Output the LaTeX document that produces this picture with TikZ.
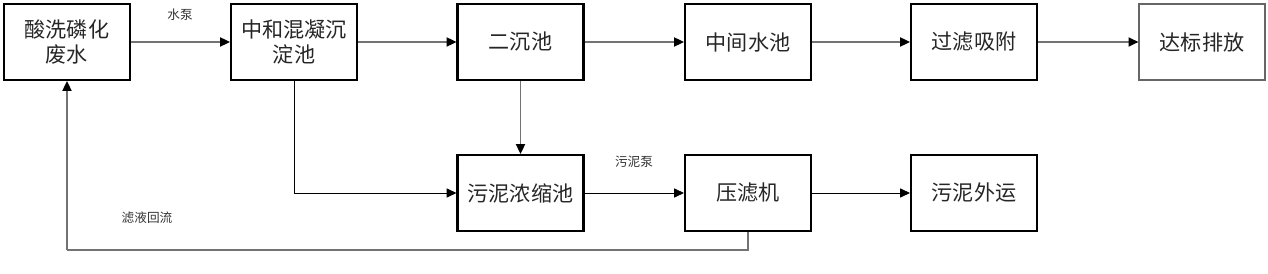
\documentclass[tikz,border=0pt]{standalone}
\usepackage{fontspec}
\newfontfamily\cjk{Noto Sans CJK SC}
\usetikzlibrary{arrows.meta}
\begin{document}
\begin{tikzpicture}[x=0.025cm,y=-0.025cm,
  box/.style={draw=black,line width=1.5pt,minimum width=126*0.025cm,minimum height=76*0.025cm,inner sep=0pt,font=\cjk\fontsize{15}{18}\selectfont,text=black!85,align=center},
  thinbox/.style={box,draw=black!60,line width=0.9pt},
  tip/.style={-{Triangle[length=7pt,width=6.5pt,color=black]}},
  conn/.style={draw=black!55,line width=1.1pt,tip},
  thinconn/.style={draw=black,line width=0.6pt,tip},
  plainconn/.style={draw=black!55,line width=1.1pt},
  lbl/.style={font=\cjk\fontsize{9}{11}\selectfont,text=black!80,inner sep=0pt}]
\useasboundingbox (0,0) rectangle (1268,274);
\node[box] (a) at (67,42) {酸洗磷化\\废水};
\node[box] (b) at (294,42) {中和混凝沉\\淀池};
\node[box] (c) at (520.5,42) {二沉池};
\node[box] (d) at (748,42) {中间水池};
\node[box] (e) at (974,42) {过滤吸附};
\node[thinbox] (f) at (1202,42) {达标排放};
\node[box] (g) at (520.5,193) {污泥浓缩池};
\node[box] (h) at (748,193) {压滤机};
\node[box] (i) at (974,193) {污泥外运};
\coordinate (hb) at (748,250);
\coordinate (ab) at (67,250);
\draw[conn] (a) -- (b);
\draw[conn] (b) -- (c);
\draw[conn] (c) -- (d);
\draw[conn] (d) -- (e);
\draw[conn] (e) -- (f);
\draw[conn] (c) -- (g);
\draw[thinconn] (b.south) |- (g.west);
\draw[thinconn] (g) -- (h);
\draw[thinconn] (h) -- (i);
\draw[plainconn] (h.south) -- (hb) -- (ab);
\draw[conn] (ab) -- (a.south);
\node[lbl] (l1) at (180,15) {水泵};
\node[lbl] (l2) at (634,162) {污泥泵};
\node[lbl] (l3) at (147,218) {滤液回流};
\end{tikzpicture}
\end{document}
